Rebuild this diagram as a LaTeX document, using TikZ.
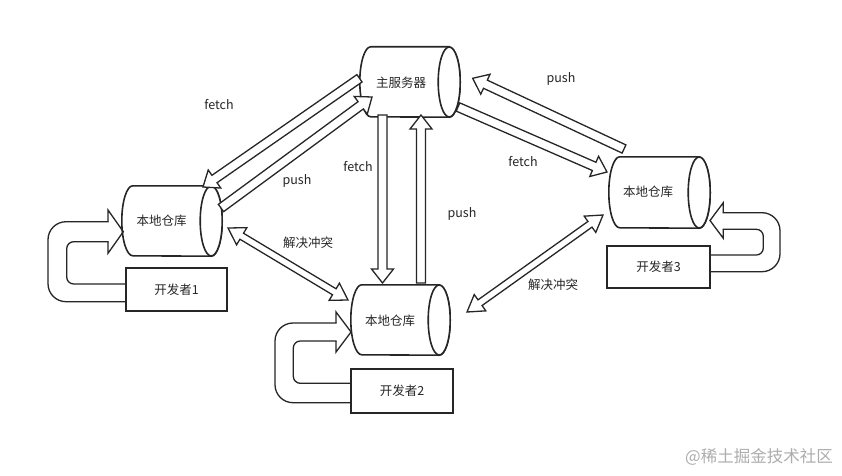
\documentclass[tikz,border=0pt]{standalone}
\usepackage{fontspec}
\setmainfont{Noto Sans CJK SC}
\usetikzlibrary{calc}
\newcommand\asw{4.5pt}
\newcommand\ahw{11pt}
\newcommand\ahl{14pt}
\newcommand\cylnode[5]{%
  \node[inner sep=0, minimum width=#3, minimum height=#4] (#1) at (#2) {};
  \draw[shp] ($(#1.north east)+(-#5,0)$) -- ($(#1.north west)+(#5,0)$)
     arc[start angle=90, end angle=270, x radius=#5, y radius=#4/2]
     -- ($(#1.south east)+(-#5,0)$)
     arc[start angle=-90, end angle=90, x radius=#5, y radius=#4/2] -- cycle;
  \draw[shp] ($(#1.east)+(-#5,0)$) ellipse[x radius=#5, y radius=#4/2];
}
\newcommand\blockarrow[2]{%
  \coordinate (bac) at ($(#2)!\ahl!(#1)$);
  \draw[arr] ($(#1)!\asw!90:(#2)$) -- ($(bac)!\asw!90:(#2)$) -- ($(bac)!\ahw!90:(#2)$)
     -- (#2) -- ($(bac)!\ahw!-90:(#2)$) -- ($(bac)!\asw!-90:(#2)$)
     -- ($(#1)!\asw!-90:(#2)$) -- cycle;
}
\newcommand\dblarrow[2]{%
  \coordinate (dca) at ($(#1)!16pt!(#2)$);
  \coordinate (dcb) at ($(#2)!16pt!(#1)$);
  \draw[arr] (#1) -- ($(dca)!10pt!90:(#2)$) -- ($(dca)!3.5pt!90:(#2)$)
     -- ($(dcb)!3.5pt!90:(#2)$) -- ($(dcb)!10pt!90:(#2)$) -- (#2)
     -- ($(dcb)!10pt!-90:(#2)$) -- ($(dcb)!3.5pt!-90:(#2)$)
     -- ($(dca)!3.5pt!-90:(#2)$) -- ($(dca)!10pt!-90:(#2)$) -- cycle;
}
\begin{document}
\begin{tikzpicture}[x=1pt,y=1pt,
  shp/.style={draw=black!85, line width=1.6pt, fill=white},
  arr/.style={draw=black!85, line width=1.3pt, fill=white, line join=miter},
  uarr/.style={draw=black!85, line width=1.3pt, line join=miter},
  lbl/.style={font=\fontsize{12.5}{15}\selectfont, inner sep=0pt, text=black!85},
  devbox/.style={shp, inner sep=0pt, font=\fontsize{12.5}{15}\selectfont, text=black!85}]
\useasboundingbox (0,0) rectangle (842,475);
\fill[white] (0,0) rectangle (842,475);

% cylinders
\cylnode{srv}{410,393}{100}{70}{11}
\cylnode{loc1}{172,254}{100}{70}{11}
\cylnode{loc2}{400.5,155}{99}{70}{11}
\cylnode{loc3}{659.5,282.5}{101}{71}{11}
\node[lbl] (srvt) at (401,392) {主服务器};
\node[lbl] (loc1t) at (161.5,254) {本地仓库};
\node[lbl] (loc2t) at (390,154) {本地仓库};
\node[lbl] (loc3t) at (648,283) {本地仓库};

% U arrows from developers to local repos
\draw[uarr, rounded corners=7] (126,191) -- (66.7,191) -- (66.7,233.3) -- (108.6,233.3);
\draw[uarr] (108,233.3) -- (108,221.7) -- (123.3,243.3) -- (108,265) -- (108,253.3);
\draw[uarr, rounded corners=18] (108.6,253.3) -- (48,253.3) -- (48,173.3) -- (126,173.3);

\draw[uarr, rounded corners=7] (351,91.7) -- (293.3,91.7) -- (293.3,134) -- (336.6,134);
\draw[uarr] (336,134) -- (336,123) -- (351,143) -- (336,163) -- (336,152);
\draw[uarr, rounded corners=18] (336.6,152) -- (275,152) -- (275,72.3) -- (351,72.3);

\draw[uarr, rounded corners=7] (710,220) -- (763.3,220) -- (763.3,245.7) -- (722.7,245.7);
\draw[uarr] (723.3,245.7) -- (723.3,236.7) -- (710,254.5) -- (723.3,272.3) -- (723.3,262.3);
\draw[uarr, rounded corners=18] (722.7,262.3) -- (780,262.3) -- (780,203.3) -- (710,203.3);

% developer boxes
\node[devbox, minimum width=101, minimum height=43] (dev1) at (176.5,185.5) {开发者1};
\node[devbox, minimum width=102, minimum height=44] (dev2) at (402,84) {开发者2};
\node[devbox, minimum width=103, minimum height=42] (dev3) at (658.5,208) {开发者3};

% connector end points
\coordinate (f1s) at (359.5,396.7);
\coordinate (f1e) at (203,288);
\coordinate (p1s) at (221,267);
\coordinate (p1e) at (372,378);
\coordinate (f2s) at (382.5,360);
\coordinate (f2e) at (382.5,192);
\coordinate (p2s) at (421,192);
\coordinate (p2e) at (421,360);
\coordinate (p3s) at (624,326);
\coordinate (p3e) at (472.7,396.7);
\coordinate (f3s) at (458,368);
\coordinate (f3e) at (607,303);
\coordinate (c1a) at (228,247);
\coordinate (c1b) at (348,175);
\coordinate (c2a) at (467,163);
\coordinate (c2b) at (603,260);

\blockarrow{f1s}{f1e}
\blockarrow{p1s}{p1e}
\blockarrow{f2s}{f2e}
\blockarrow{p2s}{p2e}
\blockarrow{p3s}{p3e}
\blockarrow{f3s}{f3e}
\dblarrow{c1a}{c1b}
\dblarrow{c2a}{c2b}

% labels
\node[lbl] (l1) at (219,370) {fetch};
\node[lbl] (l2) at (297,294) {push};
\node[lbl] (l3) at (358,308) {fetch};
\node[lbl] (l4) at (462,261) {push};
\node[lbl] (l5) at (561,396) {push};
\node[lbl] (l6) at (523,313) {fetch};
\node[lbl] (l7) at (308,232) {解决冲突};
\node[lbl] (l8) at (553,190) {解决冲突};

\node[inner sep=0pt, text=black!32, font=\fontsize{16.5}{18}\selectfont] (wm) at (759,18) {@稀土掘金技术社区};
\end{tikzpicture}
\end{document}
